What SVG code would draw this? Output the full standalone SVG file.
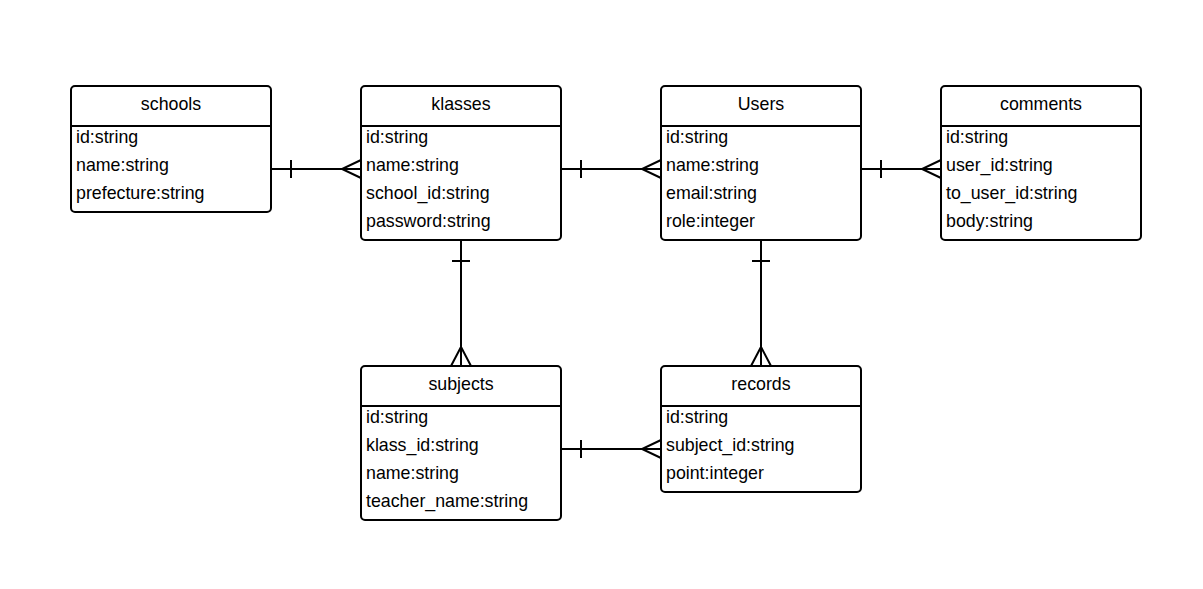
<svg xmlns="http://www.w3.org/2000/svg" width="1203" height="589" viewBox="0 0 1203 589">
<style>
.box{fill:#fff;stroke:#000;stroke-width:2}
.div{stroke:#000;stroke-width:2}
.t{font-family:"Liberation Sans",Arial,sans-serif;font-size:17.8px;fill:#000}
.h{text-anchor:middle}
.c{fill:none;stroke:#000;stroke-width:2}
</style>
<rect width="1203" height="589" fill="#fff"/>
<g id="connectors">
<path class="c" d="M271 169H361M291 160V178M361 160L342 169L361 178"/>
<path class="c" d="M561 169H661M581 160V178M661 160L642 169L661 178"/>
<path class="c" d="M861 169H941M881 160V178M941 160L922 169L941 178"/>
<path class="c" d="M461 240V366M452 261H470M451 366L461 347L471 366"/>
<path class="c" d="M761 240V366M752 261H770M751 366L761 347L771 366"/>
<path class="c" d="M561 449H661M581 440V458M661 440L642 449L661 458"/>
</g>
<g id="schools">
<rect class="box" x="71" y="86" width="200" height="126" rx="4"/>
<line class="div" x1="71" y1="126" x2="271" y2="126"/>
<text class="t h" x="171" y="109.5">schools</text>
<text class="t" x="76" y="143">id:string</text>
<text class="t" x="76" y="171">name:string</text>
<text class="t" x="76" y="199">prefecture:string</text>
</g>
<g id="klasses">
<rect class="box" x="361" y="86" width="200" height="154" rx="4"/>
<line class="div" x1="361" y1="126" x2="561" y2="126"/>
<text class="t h" x="461" y="109.5">klasses</text>
<text class="t" x="366" y="143">id:string</text>
<text class="t" x="366" y="171">name:string</text>
<text class="t" x="366" y="199">school_id:string</text>
<text class="t" x="366" y="227">password:string</text>
</g>
<g id="users">
<rect class="box" x="661" y="86" width="200" height="154" rx="4"/>
<line class="div" x1="661" y1="126" x2="861" y2="126"/>
<text class="t h" x="761" y="109.5">Users</text>
<text class="t" x="666" y="143">id:string</text>
<text class="t" x="666" y="171">name:string</text>
<text class="t" x="666" y="199">email:string</text>
<text class="t" x="666" y="227">role:integer</text>
</g>
<g id="comments">
<rect class="box" x="941" y="86" width="200" height="154" rx="4"/>
<line class="div" x1="941" y1="126" x2="1141" y2="126"/>
<text class="t h" x="1041" y="109.5">comments</text>
<text class="t" x="946" y="143">id:string</text>
<text class="t" x="946" y="171">user_id:string</text>
<text class="t" x="946" y="199">to_user_id:string</text>
<text class="t" x="946" y="227">body:string</text>
</g>
<g id="subjects">
<rect class="box" x="361" y="366" width="200" height="154" rx="4"/>
<line class="div" x1="361" y1="406" x2="561" y2="406"/>
<text class="t h" x="461" y="389.5">subjects</text>
<text class="t" x="366" y="423">id:string</text>
<text class="t" x="366" y="451">klass_id:string</text>
<text class="t" x="366" y="479">name:string</text>
<text class="t" x="366" y="507">teacher_name:string</text>
</g>
<g id="records">
<rect class="box" x="661" y="366" width="200" height="126" rx="4"/>
<line class="div" x1="661" y1="406" x2="861" y2="406"/>
<text class="t h" x="761" y="389.5">records</text>
<text class="t" x="666" y="423">id:string</text>
<text class="t" x="666" y="451">subject_id:string</text>
<text class="t" x="666" y="479">point:integer</text>
</g>
</svg>
